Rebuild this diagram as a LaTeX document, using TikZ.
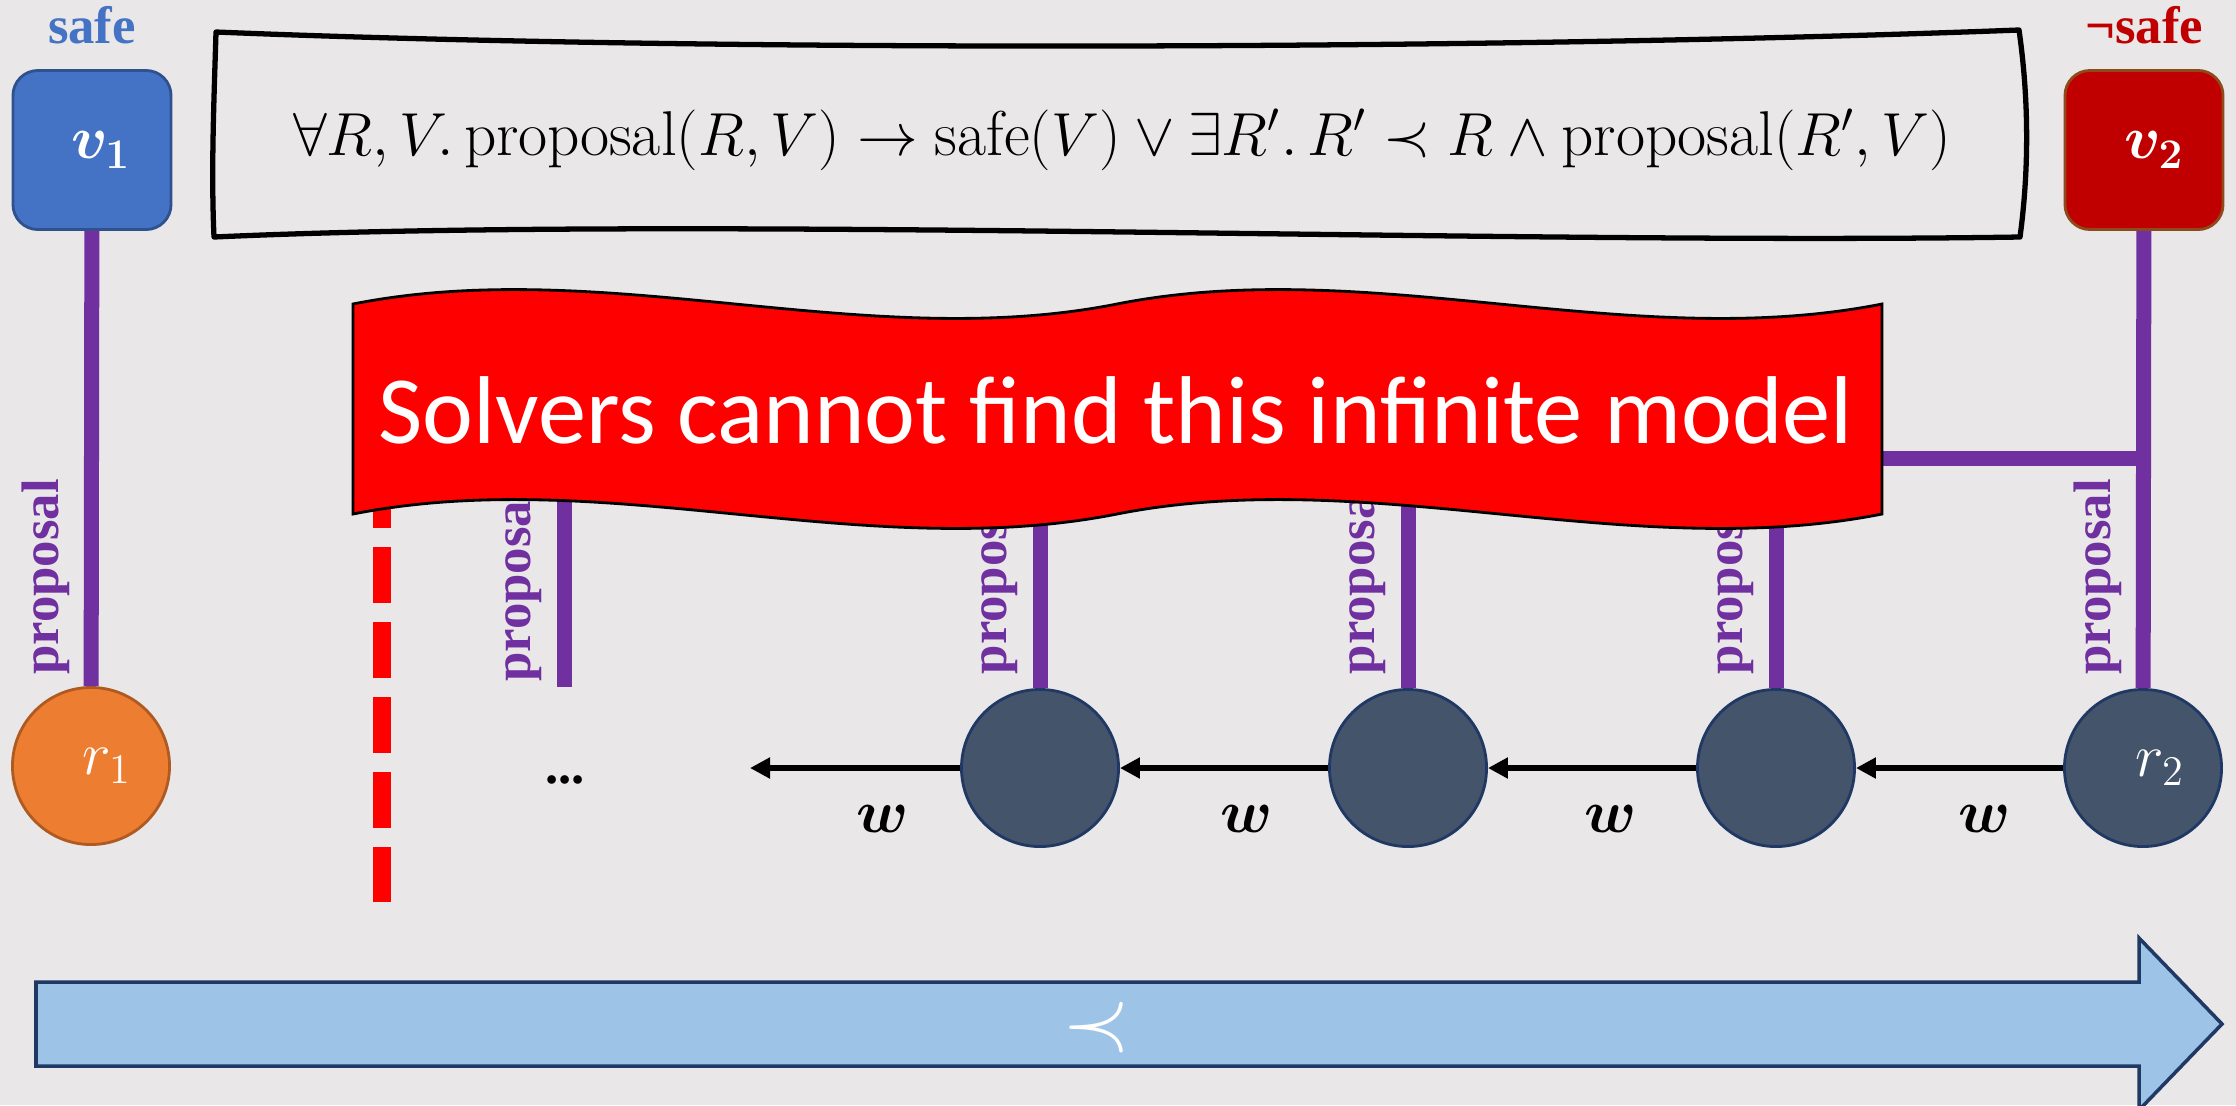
\documentclass[tikz,border=0pt]{standalone}
\usepackage{fontspec}
\newfontfamily\bannerfont{Carlito}
\newfontfamily\tagfont{Liberation Serif}
\usetikzlibrary{arrows.meta, positioning, calc}
\definecolor{bgGray}{HTML}{E9E7E8}
\definecolor{safeBlue}{HTML}{4472C4}
\definecolor{safeBorder}{HTML}{2F528F}
\definecolor{unsafeRed}{HTML}{C00000}
\definecolor{unsafeBorder}{HTML}{8F4A1C}
\definecolor{propPurple}{HTML}{7030A0}
\definecolor{roundOrange}{HTML}{ED7D31}
\definecolor{orangeBorder}{HTML}{AE5A21}
\definecolor{roundSlate}{HTML}{44546A}
\definecolor{slateBorder}{HTML}{1F3864}
\definecolor{bannerRed}{HTML}{FF0000}
\definecolor{orderBlue}{HTML}{9DC3E6}
\tikzset{
    >={Triangle[length=2mm, width=2mm]},
    % Colors
    valSafe/.style={valBox, draw=safeBorder, fill=safeBlue},
    valUnsafe/.style={valBox, draw=unsafeBorder, fill=unsafeRed},
    roundFirst/.style={round, draw=orangeBorder, fill=roundOrange},
    roundMid/.style={round, draw=slateBorder, fill=roundSlate},
    % Shapes
    valBox/.style={rectangle, rounded corners=0.25cm, line width=0.8pt,
                   minimum width=1.58cm, minimum height=1.59cm, inner sep=0pt,
                   text=white, font=\fontsize{17}{20}\selectfont\boldmath},
    round/.style={circle, minimum size=1.57cm, inner sep=0pt, line width=0.8pt,
                  text=white, font=\fontsize{18}{20}\selectfont},
    sketch/.style={draw=black, line width=1.5pt, line join=round},
    banner/.style={fill=bannerRed, draw=black, line width=0.8pt},
    orderArrow/.style={fill=orderBlue, draw=slateBorder, line width=1pt},
    % Lines & Labels
    propLine/.style={draw=propPurple, line width=0.15cm},
    cutLine/.style={draw=bannerRed, line width=0.18cm, dash pattern=on 0.56cm off 0.19cm},
    flow/.style={->, line width=0.06cm, black},
    tag/.style={inner sep=0pt, font=\tagfont\bfseries\fontsize{15}{18}\selectfont},
    propLbl/.style={tag, text=propPurple, rotate=90, anchor=south, outer sep=0.22cm},
    wLbl/.style={inner sep=0pt, font=\fontsize{18}{20}\selectfont\boldmath},
    bannerTxt/.style={text=white, inner sep=0pt, font=\bannerfont\fontsize{27.4}{30}\selectfont}
}
\begin{document}
\begin{tikzpicture}[x=0.01cm, y=-0.01cm]
\useasboundingbox[fill=bgGray] (0,0) rectangle (2236,1105);
\clip (0,0) rectangle (2236,1105);

% formula
\node[anchor=base, inner sep=0pt, font=\fontsize{18}{21}\selectfont] (formula) at (1122,155)
    {$\forall R,V.\,\mathrm{proposal}(R,V)\rightarrow\mathrm{safe}(V)\lor\exists R'.\,R'\prec R\land\mathrm{proposal}(R',V)$};
\draw[sketch] (216,32) .. controls (700,52) and (1500,50) .. (2019,30)
    .. controls (2029,100) and (2029,170) .. (2020,237)
    .. controls (1500,245) and (700,215) .. (214,237)
    .. controls (211,170) and (214,100) .. cycle;

% values
\node[valSafe] (v1) at (92,150) {\hspace*{0.18cm}$v_1$};
\node[valUnsafe] (v2) at (2144,150) {\hspace*{0.2cm}$v_2$};
\node[tag, text=safeBlue, above=0.24cm of v1] (safe1) {safe};
\node[tag, text=unsafeRed, above=0.24cm of v2] (safe2) {¬safe};

% rounds
\node[roundFirst] (r1) at (91,766) {\hspace*{0.32cm}$r_1$};
\foreach \i/\x in {1/1040, 2/1408, 3/1776}
    \node[roundMid] (c\i) at (\x,768) {};
\node[roundMid] (r2) at (2143,768) {\hspace*{0.34cm}$r_2$};

% proposal
\coordinate (j0) at (564,458);
\coordinate (j2) at (2143,458);
\coordinate (e0) at (564,687);
\draw[propLine] (v1) -- node[propLbl, pos=0.76] {proposal} (r1);
\draw[propLine] (v2) -- node[propLbl, pos=0.757] {proposal} (r2);
\draw[propLine] (e0) -- node[propLbl, pos=0.45] {proposal} (j0);
\foreach \i in {1,2,3}
    \draw[propLine] (c\i) -- node[propLbl, pos=0.485] {proposal} (c\i |- j0);
\draw[propLine] (j0) -- (j2);

% cut
\coordinate (cutTop) at (382,472);
\coordinate (cutEnd) at (382,902);
\draw[cutLine] (cutTop) -- (cutEnd);

% w chain
\coordinate (chainEnd) at (750,768);
\draw[flow] (c1) -- node[wLbl, pos=0.37, below=0.34cm] {$w$} (chainEnd);
\draw[flow] (c2) -- node[wLbl, pos=0.39, below=0.34cm] {$w$} (c1);
\draw[flow] (c3) -- node[wLbl, pos=0.41, below=0.34cm] {$w$} (c2);
\draw[flow] (r2) -- node[wLbl, pos=0.38, below=0.34cm] {$w$} (c3);
\node[tag] (dots) at (565,780) {...};

% banner
\draw[banner] (353,304) .. controls (606,254) and (864,354) .. (1117,304)
    .. controls (1370,254) and (1629,354) .. (1882,304)
    -- (1882,514) .. controls (1629,564) and (1370,464) .. (1117,514)
    .. controls (864,564) and (606,464) .. (353,514) -- cycle;
\node[bannerTxt, anchor=base] (warn) at (1116,443) {Solvers cannot find this infinite model};

% order
\draw[orderArrow] (36,982) -- (2139,982) -- (2139,938) -- (2222,1024)
    -- (2139,1110) -- (2139,1066) -- (36,1066) -- cycle;
\node[text=white, font=\fontsize{24}{26}\selectfont] (order) at (1097,1028) {$\prec$};

\end{tikzpicture}
\end{document}
